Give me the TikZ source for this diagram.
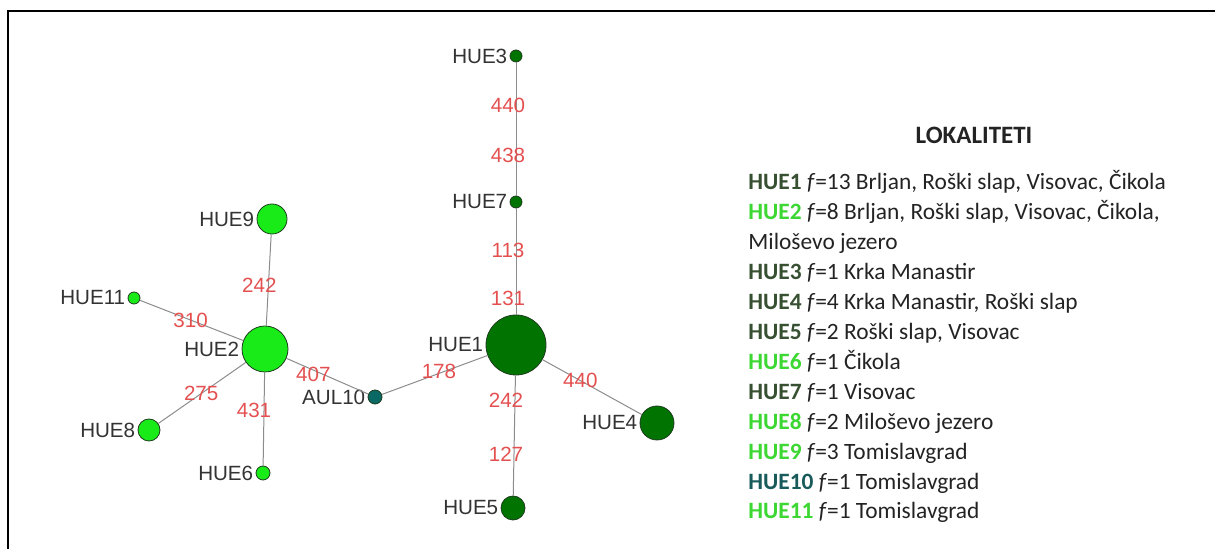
\documentclass[tikz,border=0pt]{standalone}
\usepackage{fontspec}
\setmainfont{Liberation Sans}
\newfontfamily\calibri{Carlito}
\usetikzlibrary{positioning}

\definecolor{dkgreen}{RGB}{0,115,0}
\definecolor{ltgreen}{RGB}{25,235,25}
\definecolor{tealnode}{RGB}{10,105,100}
\definecolor{rimcol}{RGB}{30,60,30}
\definecolor{edgecol}{RGB}{140,140,140}
\definecolor{numred}{RGB}{228,80,80}
\definecolor{legdk}{RGB}{55,80,50}
\definecolor{leglt}{RGB}{60,215,50}
\definecolor{legteal}{RGB}{25,90,90}
\definecolor{legtext}{RGB}{35,35,35}

\tikzset{
  hap/.style={circle, draw=rimcol, line width=0.4pt, inner sep=0pt, label distance=1.5pt},
  darkhap/.style={hap, fill=dkgreen},
  lighthap/.style={hap, fill=ltgreen},
  tealhap/.style={hap, fill=tealnode},
  nlab/.style={font=\fontsize{10.3}{12}\selectfont, text=black!80, inner sep=1pt},
  link/.style={draw=edgecol, line width=0.5pt},
  elab/.style={font=\fontsize{10.3}{12}\selectfont, text=numred, inner sep=0pt},
  leg/.style={anchor=base west, inner sep=0pt, text=legtext, font=\calibri\fontsize{11.7}{14}\selectfont},
}

\begin{document}
\begin{tikzpicture}[x=0.5pt, y=-0.5pt]
    \useasboundingbox (0,0) rectangle (1215,549);
    \draw[line width=1pt] (7.5,549) -- (7.5,11) -- (1215,11);

    % haplotypes
    \node[darkhap, minimum size=30pt, label={[nlab]left:HUE1}] (hue1) at (516,345) {};
    \node[darkhap, minimum size=6pt, label={[nlab]left:HUE3}] (hue3) at (516,56) {};
    \node[darkhap, minimum size=6pt, label={[nlab]left:HUE7}] (hue7) at (516,202) {};
    \node[darkhap, minimum size=17pt, label={[nlab]left:HUE4}] (hue4) at (657,423) {};
    \node[darkhap, minimum size=12pt, label={[nlab]left:HUE5}] (hue5) at (513,508) {};
    \node[tealhap, minimum size=7pt, label={[nlab]left:AUL10}] (aul10) at (375,397) {};
    \node[lighthap, minimum size=23pt, label={[nlab]left:HUE2}] (hue2) at (265,349) {};
    \node[lighthap, minimum size=15pt, label={[nlab]left:HUE9}] (hue9) at (272,219) {};
    \node[lighthap, minimum size=6pt, label={[nlab]left:HUE11}] (hue11) at (134,298) {};
    \node[lighthap, minimum size=11pt, label={[nlab]left:HUE8}] (hue8) at (149,430) {};
    \node[lighthap, minimum size=7pt, label={[nlab]left:HUE6}] (hue6) at (263,473) {};

    \begin{scope}[on background layer/.try]
    \draw[link]
        (hue3) edge node[elab, pos=0.32, xshift=-4pt]{440} node[elab, pos=0.70, xshift=-4pt]{438} (hue7)
        (hue7) edge node[elab, pos=0.40, xshift=-4pt]{113} node[elab, pos=0.85, xshift=-4pt]{131} (hue1)
        (hue1) edge node[elab, pos=0.21, xshift=-4.5pt]{242} node[elab, pos=0.66, xshift=-4pt]{127} (hue5)
        (hue1) edge node[elab, pos=0.38]{440} (hue4)
        (aul10) edge node[elab, pos=0.54, yshift=1pt]{178} (hue1)
        (hue2) edge node[elab, pos=0.33, yshift=-2pt]{407} (aul10)
        (hue2) edge node[elab, pos=0.44, xshift=-4.5pt]{242} (hue9)
        (hue2) edge node[elab, pos=0.51]{310} (hue11)
        (hue2) edge node[elab, pos=0.51]{275} (hue8)
        (hue2) edge node[elab, pos=0.41, xshift=-5pt]{431} (hue6)
       ;
    \end{scope}

    % legend
    \node[font=\calibri\bfseries\fontsize{12.5}{15}\selectfont, text=legtext] (title) at (974,135) {LOKALITETI};
    \node[leg] (leg1) at (748,190) {\textbf{\color{legdk}HUE1} \textit{f}=13 Brljan, Roški slap, Visovac, Čikola};
    \node[leg] (leg2) at (748,220) {\textbf{\color{leglt}HUE2} \textit{f}=8 Brljan, Roški slap, Visovac, Čikola,};
    \node[leg] (leg2b) at (748,250) {Miloševo jezero};
    \node[leg] (leg3) at (748,280) {\textbf{\color{legdk}HUE3} \textit{f}=1 Krka Manastir};
    \node[leg] (leg4) at (748,310) {\textbf{\color{legdk}HUE4} \textit{f}=4 Krka Manastir, Roški slap};
    \node[leg] (leg5) at (748,340) {\textbf{\color{legdk}HUE5} \textit{f}=2 Roški slap, Visovac};
    \node[leg] (leg6) at (748,370) {\textbf{\color{leglt}HUE6} \textit{f}=1 Čikola};
    \node[leg] (leg7) at (748,400) {\textbf{\color{legdk}HUE7} \textit{f}=1 Visovac};
    \node[leg] (leg8) at (748,430) {\textbf{\color{leglt}HUE8} \textit{f}=2 Miloševo jezero};
    \node[leg] (leg9) at (748,460) {\textbf{\color{leglt}HUE9} \textit{f}=3 Tomislavgrad};
    \node[leg] (leg10) at (748,490) {\textbf{\color{legteal}HUE10} \textit{f}=1 Tomislavgrad};
    \node[leg] (leg11) at (748,519) {\textbf{\color{leglt}HUE11} \textit{f}=1 Tomislavgrad};
\end{tikzpicture}
\end{document}
